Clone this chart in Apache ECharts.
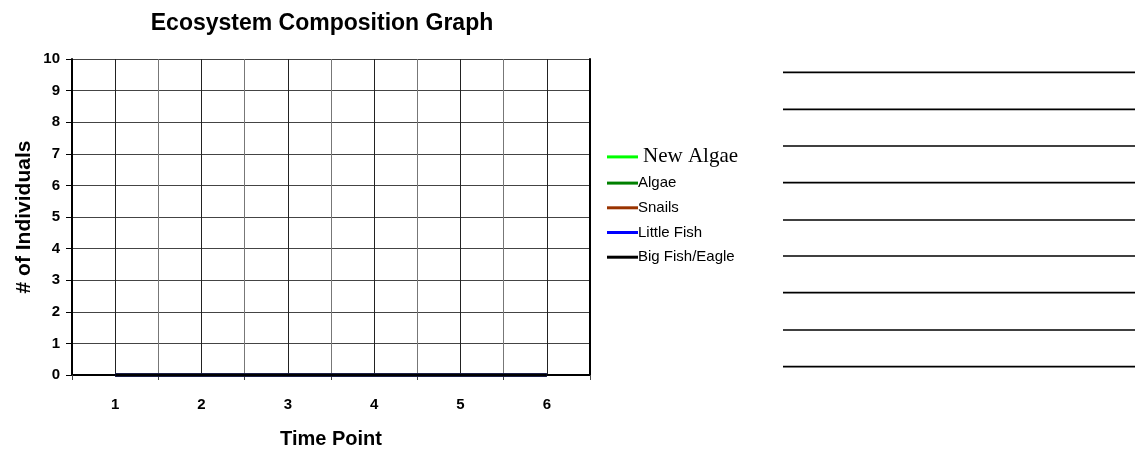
<!DOCTYPE html>
<html>
<head>
<meta charset="utf-8">
<script src="https://cdn.jsdelivr.net/npm/echarts@6/dist/echarts.min.js"></script>
<style>
html,body{margin:0;padding:0;background:#fff;}
#chart{width:1135px;height:454px;}
</style>
</head>
<body>
<div id="chart"></div>
<script>
// ---- data ----
var categories = ['1', '2', '3', '4', '5', '6'];
var newAlgae = [0, 0, 0, 0, 0, 0];
var algae = [0, 0, 0, 0, 0, 0];
var snails = [0, 0, 0, 0, 0, 0];
var littleFish = [0, 0, 0, 0, 0, 0];
var bigFishEagle = [0, 0, 0, 0, 0, 0];
var seriesNames = ['New Algae', 'Algae', 'Snails', 'Little Fish', 'Big Fish/Eagle'];
var seriesColors = ['#00ff00', '#008000', '#993300', '#0000ff', '#000000'];
var halfSteps = ['', '', '', '', '', '', '', '', '', '', '', '', ''];
var answerLineYs = [72.3, 109.3, 146, 182.7, 220, 256, 292.7, 330, 366.7];

var SANS = 'Arial, "Liberation Sans", sans-serif';
var SERIF = '"Times New Roman", "Liberation Serif", serif';

var chart = echarts.init(document.getElementById('chart'), null, {renderer: 'canvas'});

var allData = [newAlgae, algae, snails, littleFish, bigFishEagle];
var series = seriesNames.map(function (n, i) {
  return {
    name: n,
    type: 'line',
    data: allData[i],
    symbol: 'none',
    clip: false,
    xAxisIndex: 0,
    yAxisIndex: 0,
    lineStyle: {color: seriesColors[i], width: 3},
    itemStyle: {color: seriesColors[i]},
    emphasis: {disabled: true}
  };
});

var graphics = answerLineYs.map(function (y) {
  return {
    type: 'line',
    shape: {x1: 783, y1: y, x2: 1135, y2: y},
    style: {stroke: '#000', lineWidth: 1.7}
  };
});

chart.setOption({
  animation: false,
  backgroundColor: '#fff',
  title: {
    text: 'Ecosystem Composition Graph',
    left: 317,
    top: 7,
    textAlign: 'center',
    textStyle: {fontFamily: SANS, fontSize: 23, fontWeight: 'bold', color: '#000'}
  },
  legend: {
    orient: 'vertical',
    left: 607,
    top: 146.4,
    padding: 0,
    itemGap: 6.7,
    itemWidth: 31,
    itemHeight: 3,
    icon: 'rect',
    selectedMode: false,
    data: seriesNames.map(function (n, i) {
      if (i === 0) {
        return {name: n, textStyle: {fontFamily: SERIF, fontSize: 21, lineHeight: 21, color: '#000'}};
      }
      return {name: n, textStyle: {fontFamily: SANS, fontSize: 15, lineHeight: 18, color: '#000', padding: [0, 0, 0, -5]}};
    })
  },
  grid: {left: 72, top: 59, width: 518, height: 321, containLabel: false},
  xAxis: [{
    type: 'category',
    data: categories,
    boundaryGap: true,
    position: 'bottom',
    name: 'Time Point',
    nameLocation: 'middle',
    nameGap: 54,
    nameTextStyle: {fontFamily: SANS, fontSize: 20, fontWeight: 'bold', color: '#000'},
    axisLine: {show: true, lineStyle: {color: '#808080', width: 1}},
    axisTick: {show: true, inside: false, length: 5, lineStyle: {color: '#444'}},
    axisLabel: {margin: 22, fontFamily: SANS, fontSize: 15, fontWeight: 'bold', color: '#000'},
    splitLine: {show: false}
  }, {
    type: 'category',
    data: halfSteps,
    boundaryGap: false,
    position: 'top',
    axisLine: {show: true, lineStyle: {color: '#000', width: 2}},
    axisTick: {show: false},
    axisLabel: {show: false},
    splitLine: {show: true, interval: 0, lineStyle: {color: ['#777', '#222'], width: 1}}
  }],
  yAxis: [{
    type: 'value',
    min: 0,
    max: 10,
    interval: 1,
    position: 'left',
    name: '# of Individuals',
    nameLocation: 'middle',
    nameGap: 37,
    nameTextStyle: {fontFamily: SANS, fontSize: 21, fontWeight: 'bold', color: '#000'},
    axisLine: {show: true, lineStyle: {color: '#000', width: 2}},
    axisTick: {show: true, inside: false, length: 6, lineStyle: {color: '#000'}},
    axisLabel: {margin: 12, fontFamily: SANS, fontSize: 15, fontWeight: 'bold', color: '#000'},
    splitLine: {show: true, lineStyle: {color: '#444', width: 1}}
  }, {
    type: 'value',
    min: 0,
    max: 10,
    interval: 1,
    position: 'right',
    axisLine: {show: true, lineStyle: {color: '#000', width: 2}},
    axisTick: {show: false},
    axisLabel: {show: false},
    splitLine: {show: false}
  }],
  graphic: graphics,
  series: series
});
</script>
</body>
</html>
